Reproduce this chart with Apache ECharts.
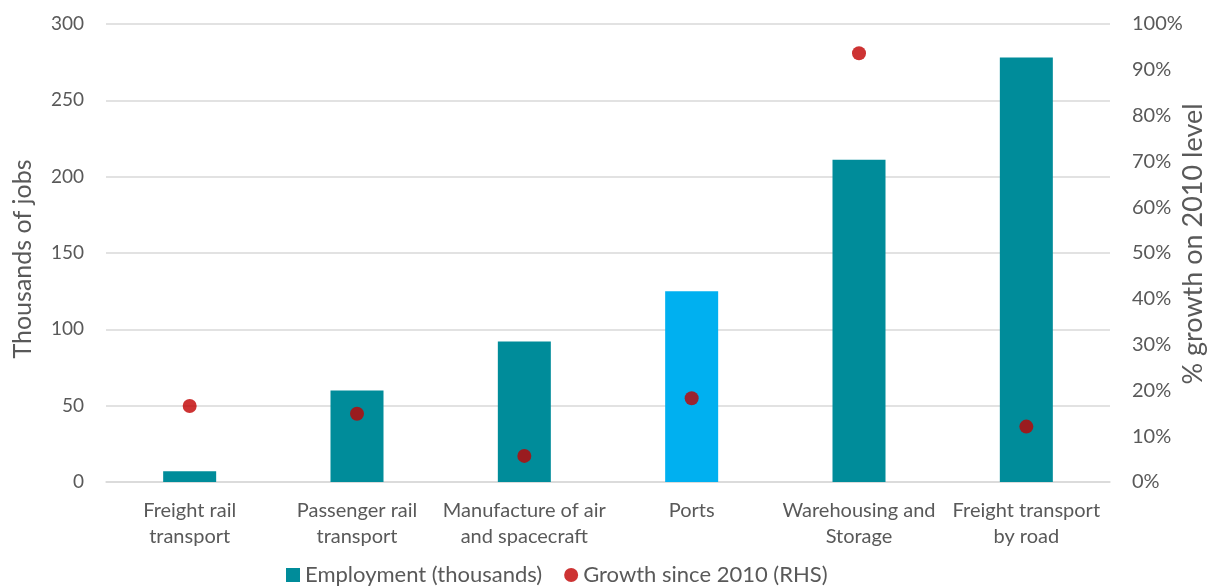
<!DOCTYPE html>
<html>
<head>
<meta charset="utf-8">
<script src="https://cdn.jsdelivr.net/npm/echarts@6/dist/echarts.min.js"></script>
<style>
  html, body { margin: 0; padding: 0; background: #fff; }
  #chart { width: 1207px; height: 586px; }
</style>
</head>
<body>
<div id="chart"></div>
<script>
const categories = [
  'Freight rail\ntransport',
  'Passenger rail\ntransport',
  'Manufacture of air\nand spacecraft',
  'Ports',
  'Warehousing and\nStorage',
  'Freight transport\nby road',
];
const employment = [7, 60, 92, 125, 211, 278];
const growthPct = [16.6, 14.9, 5.7, 18.3, 93.6, 12.1];
const leftTicks = [0, 300, 50];
const rightTicks = [0, 100, 10];

const TEAL = '#008C9A';
const LIGHT_BLUE = '#00B0F0';
const RED = '#C00000';
const TEXT = '#595959';
const FONT = 'Lato';

const chart = echarts.init(document.getElementById('chart'));
chart.setOption({
  animation: false,
  textStyle: { fontFamily: FONT, color: TEXT },
  grid: { left: 106, right: 97, top: 24, bottom: 104, outerBoundsMode: 'none' },
  legend: {
    left: 281,
    top: 559,
    itemGap: 22,
    itemWidth: 14,
    itemHeight: 14,
    textStyle: { fontFamily: FONT, fontSize: 22, color: TEXT },
    data: [
      { name: 'Employment (thousands)', icon: 'rect', itemStyle: { color: TEAL } },
      { name: 'Growth since 2010 (RHS)', icon: 'circle', itemStyle: { color: RED } },
    ],
  },
  xAxis: {
    type: 'category',
    data: categories,
    axisLine: { lineStyle: { color: '#D9D9D9', width: 1.5 } },
    axisTick: { show: false },
    axisLabel: {
      margin: 16,
      fontSize: 20,
      lineHeight: 26,
      color: TEXT,
      interval: 0,
    },
  },
  yAxis: [
    {
      type: 'value',
      min: leftTicks[0],
      max: leftTicks[1],
      interval: leftTicks[2],
      name: 'Thousands of jobs',
      nameLocation: 'middle',
      nameGap: 71,
      nameMoveOverlap: false,
      nameTextStyle: { fontSize: 25, color: TEXT, padding: [0, 12, 0, 0] },
      axisLine: { show: false },
      axisTick: { show: false },
      axisLabel: { fontSize: 19, color: TEXT, margin: 22 },
      splitLine: { lineStyle: { color: '#D9D9D9', width: 1.5 } },
    },
    {
      type: 'value',
      min: rightTicks[0],
      max: rightTicks[1],
      interval: rightTicks[2],
      name: '% growth on 2010 level',
      nameLocation: 'middle',
      nameGap: 70,
      nameMoveOverlap: false,
      nameTextStyle: { fontSize: 27, color: TEXT, padding: [0, 0, 0, 18] },
      axisLine: { show: false },
      axisTick: { show: false },
      axisLabel: { fontSize: 20, color: TEXT, margin: 22, formatter: '{value}%' },
      splitLine: { show: false },
    },
  ],
  series: [
    {
      name: 'Employment (thousands)',
      type: 'bar',
      yAxisIndex: 0,
      barWidth: 53,
      data: employment,
      itemStyle: {
        color: (p) => (p.name === 'Ports' ? LIGHT_BLUE : TEAL),
      },
    },
    {
      name: 'Growth since 2010 (RHS)',
      type: 'scatter',
      yAxisIndex: 1,
      symbol: 'circle',
      symbolSize: 14,
      itemStyle: { color: RED },
      data: growthPct,
    },
  ],
});
</script>
</body>
</html>
